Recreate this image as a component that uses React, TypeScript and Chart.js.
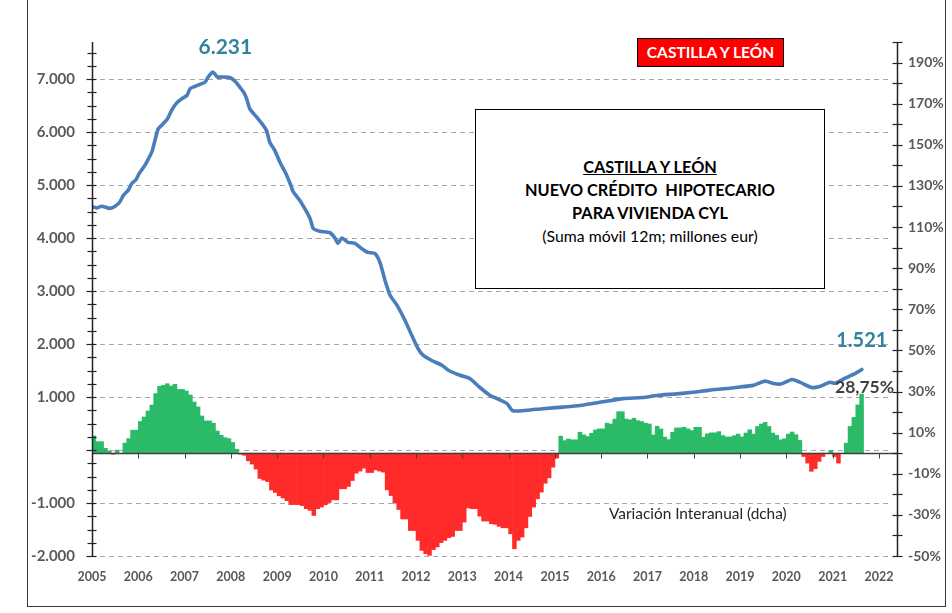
import React, { useEffect, useRef } from 'react';
import { Chart, registerables } from 'chart.js';

Chart.register(...registerables);

// ---------- DATA ----------
const START_YEAR = 2005;
const yearTicks = [2005, 2006, 2007, 2008, 2009, 2010, 2011, 2012, 2013, 2014, 2015, 2016, 2017, 2018, 2019, 2020, 2021, 2022];

// Variación interanual (%), monthly from Jan 2005 (right axis)
const variationPct = [
  8.4, 5.6, 5.6, 2.4, 1.0, -0.5, 1.5, 0, 4.9, 7.1, 11.2, 11.2,
  15.4, 17.6, 20.5, 23.4, 29, 32.5, 33, 33.8, 32.7, 33.5, 31, 31,
  30.2, 28.3, 24.9, 22.5, 18.1, 15.7, 15.7, 14.6, 10.8, 8.7, 7.6, 7.1,
  5.2, 1.9, -0.5, -1, -3.7, -5.3, -7.7, -12.3, -13.1, -13.8, -17.9, -19.1,
  -20.7, -21.8, -23.1, -25, -25, -25, -25.5, -27, -27.8, -30.3, -27, -26.2,
  -25.1, -24, -22.7, -22.7, -17.3, -17.3, -16.2, -13.3, -9.7, -8.7, -7.3, -9.4,
  -9.4, -8.1, -8.7, -9.2, -17.8, -20.6, -24.3, -27.4, -32, -32, -37.6, -37.6,
  -42.4, -47.3, -48.9, -49.7, -46.9, -45.6, -43.5, -42.4, -41.1, -40.5, -37.6, -37.6,
  -33.5, -26.6, -27, -27, -30.6, -33, -33, -34.3, -34.6, -35.6, -36.3, -36.3,
  -39.2, -46.5, -42.4, -40.8, -36.3, -30.8, -26.2, -22.2, -18.9, -14.6, -12, -6.8,
  -2.4, 8.3, 6.1, 6.9, 6.5, 6.5, 10.2, 8.9, 8.1, 9.7, 11.3, 11.8,
  11.8, 14.6, 14.2, 16.6, 20.2, 20.2, 16.6, 16.2, 17, 15.8, 15.4, 14.6,
  14.2, 8.9, 13.1, 11.8, 7.8, 6.6, 10.2, 12.3, 12.3, 12.6, 11.8, 11,
  12.6, 12.6, 7.8, 9.4, 9.9, 9.9, 10.5, 8.6, 7.9, 7.9, 8.5, 9.3,
  7.9, 9.8, 11.4, 9.3, 13, 14.2, 15, 13, 9.8, 8.7, 6.5, 7,
  9.3, 10.3, 9, 6.2, -1.6, -4.8, -8.8, -7.5, -4, -1.6, 0, 1.4,
  -1.6, -4.8, 0, 4.9, 13, 17.4, 23.5, 28.75,
];

// Nuevo crédito hipotecario, suma móvil 12m (millones eur), left axis
const lineDates = [
  2005.00, 2005.10, 2005.21, 2005.39, 2005.50, 2005.60, 2005.68, 2005.78, 2005.86, 2005.95,
  2006.02, 2006.11, 2006.18, 2006.29, 2006.36, 2006.43, 2006.54, 2006.63, 2006.72, 2006.83,
  2006.94, 2007.05, 2007.12, 2007.22, 2007.33, 2007.44, 2007.51, 2007.60, 2007.64, 2007.71,
  2007.84, 2007.98, 2008.09, 2008.20, 2008.28, 2008.34, 2008.41, 2008.56, 2008.67, 2008.77,
  2008.84, 2008.95, 2009.06, 2009.17, 2009.28, 2009.35, 2009.49, 2009.60, 2009.71, 2009.78,
  2009.92, 2010.14, 2010.25, 2010.31, 2010.40, 2010.53, 2010.68, 2010.83, 2010.96, 2011.11,
  2011.22, 2011.33, 2011.44, 2011.59, 2011.76, 2011.91, 2012.04, 2012.15, 2012.34, 2012.56,
  2012.71, 2012.95, 2013.16, 2013.38, 2013.60, 2013.75, 2013.96, 2014.09, 2014.40, 2014.74,
  2015.17, 2015.54, 2016.04, 2016.47, 2016.90, 2017.20, 2017.63, 2017.98, 2018.34, 2018.71,
  2018.99, 2019.28, 2019.54, 2019.75, 2019.90, 2020.12, 2020.29, 2020.55, 2020.72, 2020.94,
  2021.05, 2021.26, 2021.48, 2021.63,
];
const lineValues = [
  4590, 4570, 4600, 4560, 4600, 4680, 4810, 4900, 5030, 5100,
  5220, 5330, 5430, 5620, 5840, 6060, 6160, 6250, 6410, 6550,
  6630, 6690, 6820, 6860, 6900, 6940, 7040, 7130, 7110, 7040,
  7040, 7030, 6960, 6840, 6750, 6630, 6440, 6280, 6160, 6030,
  5810, 5650, 5430, 5250, 5030, 4870, 4710, 4550, 4370, 4180,
  4130, 4100, 4000, 3900, 4000, 3920, 3900, 3800, 3730, 3710,
  3540, 3200, 2920, 2730, 2450, 2160, 1920, 1790, 1690, 1600,
  1500, 1410, 1350, 1180, 1030, 970, 880, 740, 750, 780,
  810, 840, 910, 970, 990, 1030, 1060, 1090, 1130, 1160,
  1190, 1220, 1300, 1250, 1250, 1330, 1280, 1180, 1200, 1280,
  1260, 1350, 1440, 1521,
];

const leftTicks = [-2000, -1000, 0, 1000, 2000, 3000, 4000, 5000, 6000, 7000];
const rightTicks = [-50, -30, -10, 10, 30, 50, 70, 90, 110, 130, 150, 170, 190];

const peakLabel = '6.231';
const lastLabel = '1.521';
const lastPctLabel = '28,75%';
const boxTitle = 'CASTILLA Y LEÓN';
const boxLines = ['NUEVO CRÉDITO  HIPOTECARIO', 'PARA VIVIENDA CYL'];
const boxSub = '(Suma móvil 12m; millones eur)';
const regionTag = 'CASTILLA Y LEÓN';
const variationLabel = 'Variación Interanual (dcha)';

// ---------- STYLE ----------
const FONT = 'Lato, "Noto Sans", sans-serif';
const GREEN = '#2bbb68';
const RED = '#ff2b2b';
const LINE = '#4a7ebb';
const TEAL = '#31849b';
const AXIS_TXT = '#595959';
const AXIS_LINE = '#404040';

const fmtThousands = (v: number) => {
  const s = String(Math.abs(v)).replace(/\B(?=(\d{3})+(?!\d))/g, '.');
  return (v < 0 ? '-' : '') + s;
};

const excelPlugin = {
  id: 'excelAxes',
  beforeDatasetsDraw(chart: any) {
    const { ctx, chartArea: a, scales } = chart;
    ctx.save();
    ctx.strokeStyle = '#a6a6a6';
    ctx.lineWidth = 1;
    ctx.setLineDash([5, 4]);
    for (const v of leftTicks) {
      const y = Math.round(scales.y.getPixelForValue(v)) + 0.5;
      ctx.beginPath();
      ctx.moveTo(a.left + 8, y);
      ctx.lineTo(a.right - 6, y);
      ctx.stroke();
    }
    ctx.restore();
  },
  afterDatasetsDraw(chart: any) {
    const { ctx, chartArea: a, scales } = chart;
    ctx.save();
    ctx.strokeStyle = AXIS_LINE;
    ctx.setLineDash([]);
    // horizontal axis at right-axis zero
    const y0 = Math.round(scales.y2.getPixelForValue(0)) + 0.5;
    ctx.lineWidth = 1.5;
    ctx.beginPath();
    ctx.moveTo(a.left, y0);
    ctx.lineTo(a.right, y0);
    ctx.stroke();
    ctx.lineWidth = 1;
    for (const yr of yearTicks) {
      if (yr === START_YEAR) continue;
      const x = Math.round(scales.x.getPixelForValue(yr)) + 0.5;
      ctx.beginPath();
      ctx.moveTo(x, y0);
      ctx.lineTo(x, y0 + 5);
      ctx.stroke();
    }
    // left axis
    const xl = Math.round(a.left) + 0.5;
    ctx.strokeStyle = '#222';
    ctx.lineWidth = 1.5;
    ctx.beginPath();
    ctx.moveTo(xl, a.top);
    ctx.lineTo(xl, a.bottom);
    ctx.stroke();
    ctx.lineWidth = 1.2;
    for (let v = -2000; v <= 7500; v += 250) {
      const y = Math.round(scales.y.getPixelForValue(v)) + 0.5;
      const major = v % 1000 === 0;
      ctx.beginPath();
      ctx.moveTo(xl - (major ? 6 : 5), y);
      ctx.lineTo(xl + 4, y);
      ctx.stroke();
    }
    // right axis
    const xr = Math.round(a.right) + 0.5;
    ctx.lineWidth = 1.5;
    ctx.beginPath();
    ctx.moveTo(xr, a.top);
    ctx.lineTo(xr, a.bottom);
    ctx.stroke();
    ctx.lineWidth = 1.2;
    for (let v = -50; v <= 200; v += 10) {
      const y = Math.round(scales.y2.getPixelForValue(v)) + 0.5;
      ctx.beginPath();
      ctx.moveTo(xr - 5, y);
      ctx.lineTo(xr + 5, y);
      ctx.stroke();
    }
    ctx.restore();
  },
  afterDraw(chart: any) {
    const { ctx, scales } = chart;
    ctx.save();
    // peak label
    let pi = 0;
    lineValues.forEach((v, i) => { if (v > lineValues[pi]) pi = i; });
    const px = scales.x.getPixelForValue(lineDates[pi]);
    const py = scales.y.getPixelForValue(lineValues[pi]);
    ctx.fillStyle = TEAL;
    ctx.font = `bold 21px ${FONT}`;
    ctx.textAlign = 'center';
    ctx.textBaseline = 'middle';
    ctx.fillText(peakLabel, px + 13, py - 25);
    // last label
    const li = lineValues.length - 1;
    const lx = scales.x.getPixelForValue(lineDates[li]);
    const ly = scales.y.getPixelForValue(lineValues[li]);
    ctx.font = `bold 20px ${FONT}`;
    ctx.fillText(lastLabel, lx, ly - 29);
    // last pct label
    const bi = variationPct.length - 1;
    const bx = scales.x.getPixelForValue(START_YEAR + (bi + 0.5) / 12);
    const by = scales.y2.getPixelForValue(variationPct[bi]);
    ctx.fillStyle = '#404040';
    ctx.font = `bold 17.5px ${FONT}`;
    ctx.fillText(lastPctLabel, bx + 3, by - 7);
    ctx.restore();
  },
};

export default function App() {
  const canvasRef = useRef<HTMLCanvasElement | null>(null);

  useEffect(() => {
    const canvas = canvasRef.current;
    if (!canvas) return;
    const barData = variationPct.map((v, i) => ({ x: START_YEAR + (i + 0.5) / 12, y: v }));
    const barColors = variationPct.map((v) => (v >= 0 ? GREEN : RED));
    const chart = new Chart(canvas, {
      type: 'bar',
      data: {
        datasets: [
          {
            type: 'line',
            data: lineDates.map((d, i) => ({ x: d, y: lineValues[i] })),
            yAxisID: 'y',
            xAxisID: 'x',
            borderColor: LINE,
            borderWidth: 3.6,
            pointRadius: 0,
            tension: 0.2,
            borderJoinStyle: 'round',
            borderCapStyle: 'round',
            order: 0,
          } as any,
          {
            type: 'bar',
            data: barData,
            yAxisID: 'y2',
            xAxisID: 'x',
            backgroundColor: barColors,
            borderWidth: 0,
            barPercentage: 1,
            categoryPercentage: 1,
            order: 1,
          } as any,
        ],
      },
      options: {
        animation: false,
        responsive: false,
        maintainAspectRatio: false,
        layout: { padding: { top: 42, left: 0, right: 0, bottom: 0 } },
        plugins: { legend: { display: false }, tooltip: { enabled: false } },
        scales: {
          x: {
            type: 'linear',
            offset: false,
            min: 2005,
            max: 2022.39,
            afterBuildTicks: (s: any) => { s.ticks = yearTicks.map((v) => ({ value: v })); },
            afterFit: (s: any) => { s.height = 57; },
            grid: { display: false, drawTicks: false, offset: false },
            border: { display: false },
            ticks: {
              padding: 13,
              autoSkip: false,
              maxRotation: 0,
              color: AXIS_TXT,
              font: { family: FONT, size: 12.5, weight: 'bold' },
              callback: (v: any) => String(v),
            },
          },
          y: {
            type: 'linear',
            position: 'left',
            min: -2000,
            max: 7700,
            afterBuildTicks: (s: any) => { s.ticks = leftTicks.map((v) => ({ value: v })); },
            afterFit: (s: any) => { s.width = 92; },
            grid: { display: false, drawTicks: false },
            border: { display: false },
            ticks: {
              padding: 17,
              color: AXIS_TXT,
              font: { family: FONT, size: 15, weight: 'bold' },
              callback: (v: any) => (v === 0 ? '' : fmtThousands(v)),
            },
          },
          y2: {
            type: 'linear',
            position: 'right',
            min: -50,
            max: 200,
            afterBuildTicks: (s: any) => { s.ticks = rightTicks.map((v) => ({ value: v })); },
            afterFit: (s: any) => { s.width = 55; },
            grid: { display: false, drawTicks: false },
            border: { display: false },
            ticks: {
              padding: 11,
              color: AXIS_TXT,
              font: { family: FONT, size: 14, weight: 'bold' },
              callback: (v: any) => `${v}%`,
            },
          },
        },
      } as any,
      plugins: [excelPlugin],
    });
    return () => chart.destroy();
  }, []);

  return (
    <div style={{ position: 'absolute', left: 0, top: 0, width: 952, height: 613, background: '#fff', overflow: 'hidden' }}>
      <canvas ref={canvasRef} width={952} height={613} style={{ position: 'absolute', left: 0, top: 0, width: 952, height: 613 }} />
      {/* outer frame */}
      <div style={{ position: 'absolute', left: 27, top: -4, width: 917, height: 609, border: '1px solid #3a3a3a', pointerEvents: 'none' }} />
      {/* region tag */}
      <div style={{ position: 'absolute', left: 637, top: 38, width: 145, height: 27, background: '#ff0000', border: '1px solid #000', color: '#fff', fontFamily: FONT, fontWeight: 700, fontSize: 15.5, lineHeight: '27px', textAlign: 'center' }}>{regionTag}</div>
      {/* title box */}
      <div style={{ position: 'absolute', left: 475, top: 109, width: 348, height: 178, background: '#fff', border: '1px solid #000', fontFamily: FONT, color: '#000', textAlign: 'center', boxSizing: 'content-box' }}>
        <div style={{ position: 'absolute', left: 0, right: 0, top: 45, lineHeight: '23px' }}>
          <div style={{ fontWeight: 700, fontSize: 16.3, textDecoration: 'underline' }}>{boxTitle}</div>
          {boxLines.map((t) => (
            <div key={t} style={{ fontWeight: 700, fontSize: 16.3, whiteSpace: 'pre' }}>{t}</div>
          ))}
          <div style={{ fontSize: 15.8 }}>{boxSub}</div>
        </div>
      </div>
      {/* variation label */}
      <div style={{ position: 'absolute', left: 609, top: 504, fontFamily: FONT, fontSize: 15.4, color: '#262626', whiteSpace: 'nowrap' }}>{variationLabel}</div>
    </div>
  );
}
